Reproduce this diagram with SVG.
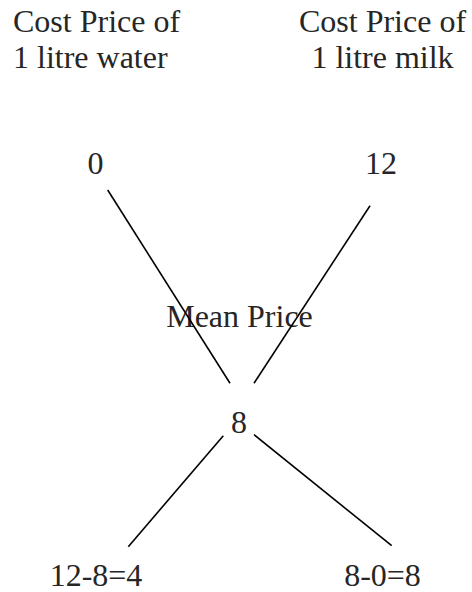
<svg xmlns="http://www.w3.org/2000/svg" width="472" height="592" viewBox="0 0 472 592">
<style>
text{font-family:"Liberation Serif","DejaVu Serif",serif;font-size:32px;fill:#262626}
.c{text-anchor:middle}
.ln{stroke:#000;stroke-width:1.6;fill:none}
</style>
<rect width="472" height="592" fill="#fff"/>
<g id="water-label"><text x="13" y="32">Cost Price of</text><text x="13" y="68">1 litre water</text></g>
<g id="milk-label"><text class="c" x="382.5" y="32">Cost Price of</text><text class="c" x="382.5" y="68">1 litre milk</text></g>
<g id="water-price"><text class="c" x="95.5" y="174">0</text></g>
<g id="milk-price"><text class="c" x="381" y="174">12</text></g>
<g id="mean-label"><text class="c" x="239.5" y="327">Mean Price</text></g>
<g id="mean-price"><text class="c" x="239" y="433">8</text></g>
<g id="water-parts"><text class="c" x="96" y="586">12-8=4</text></g>
<g id="milk-parts"><text class="c" x="382.5" y="586">8-0=8</text></g>
<g id="connectors">
<line class="ln" x1="107.7" y1="190" x2="230" y2="383.3"/>
<line class="ln" x1="370" y1="205.7" x2="254" y2="383.3"/>
<line class="ln" x1="223.3" y1="435.7" x2="128.3" y2="546.7"/>
<line class="ln" x1="254" y1="434.7" x2="391.7" y2="545.7"/>
</g>
</svg>
